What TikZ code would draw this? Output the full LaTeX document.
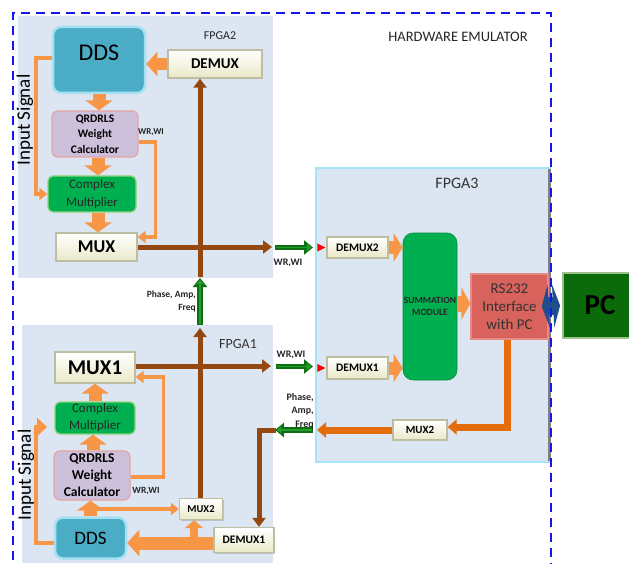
\documentclass[tikz,border=0pt]{standalone}
\usepackage{fontspec}
\setmainfont{Carlito}
\usetikzlibrary{arrows.meta,shadows}
\definecolor{panelblue}{HTML}{DCE6F2}
\definecolor{lorange}{HTML}{F79646}
\definecolor{dorange}{HTML}{E46C0A}
\definecolor{brownc}{HTML}{94470F}
\definecolor{ddsblue}{HTML}{4BACC6}
\definecolor{ddsglow}{HTML}{A5E1F2}
\definecolor{qrfill}{HTML}{CCC0DA}
\definecolor{qrdraw}{HTML}{E6A4A4}
\definecolor{cmgreen}{HTML}{00B050}
\definecolor{cmdraw}{HTML}{8FD47A}
\definecolor{cream}{HTML}{E9E9C8}
\definecolor{creamdraw}{HTML}{BDBDA2}
\definecolor{garrow}{HTML}{0E6E12}
\definecolor{lgreen}{HTML}{229E2E}
\definecolor{rsred}{HTML}{D8625C}
\definecolor{rsdraw}{HTML}{E58A86}
\definecolor{pcgreen}{HTML}{0B6B0B}
\definecolor{pcdraw}{HTML}{9DBF8A}
\definecolor{blueA}{HTML}{1F4E8C}
\definecolor{emulblue}{HTML}{1515EE}
\definecolor{fpga3line}{HTML}{A6E4F6}
\newcommand{\fs}[1]{\fontsize{#1}{#1}\selectfont}
\newcommand{\fsl}[2]{\fontsize{#1}{#2}\selectfont}
\begin{document}
\begin{tikzpicture}[x=1pt,y=-1pt,
  panel/.style={rectangle, fill=panelblue, draw=none, inner sep=0pt},
  panelthree/.style={rectangle, fill=panelblue, draw=fpga3line, line width=1.8pt, inner sep=0pt},
  creambox/.style={rectangle, draw=creamdraw, line width=1.3pt, top color=white, bottom color=cream, inner sep=0pt, text=black,
    drop shadow={shadow xshift=1pt, shadow yshift=-1pt, opacity=0.35}},
  ddsbox/.style={rectangle, rounded corners=8pt, fill=ddsblue, draw=ddsglow, line width=2.5pt, inner sep=0pt},
  qrbox/.style={rectangle, rounded corners=6pt, fill=qrfill, draw=qrdraw, line width=1.3pt, inner sep=0pt, align=center, font=\bfseries},
  cmbox/.style={rectangle, rounded corners=5pt, fill=cmgreen, draw=cmdraw, line width=1.3pt, inner sep=0pt, align=center, text=black!85},
  lbl/.style={font=\bfseries\fs{9.5}, inner sep=0pt, text=black!85},
  fat/.style={draw=lorange, line width=13pt, -{Triangle[width=27pt,length=10pt]}},
  fatsmall/.style={draw=lorange, line width=8pt, -{Triangle[width=18pt,length=8pt]}},
  thinor/.style={draw=lorange, line width=3.5pt, -{Triangle[width=12pt,length=8pt]}},
  darkor/.style={draw=dorange, line width=7pt, -{Triangle[width=15pt,length=9pt]}},
  brownarr/.style={draw=brownc, line width=5pt, -{Triangle[width=13pt,length=9pt]}},
  greenarr/.style={draw=lgreen, line width=1.8pt, shorten >=1.8pt, shorten <=1.2pt, -{Triangle[width=7pt,length=4.5pt]},
    preaction={draw=garrow, line width=5.5pt, shorten >=0pt, shorten <=0pt, -{Triangle[width=14pt,length=9pt]}}},
  emul/.style={draw=emulblue, line width=2.2pt, dash pattern=on 9pt off 6pt}
]
\useasboundingbox (0,0) rectangle (629,564);

% ---------- panels ----------
\node[panel, minimum width=255pt, minimum height=262pt] (fpga2) at (145.5,147) {};
\node[panel, minimum width=251pt, minimum height=238pt] (fpga1) at (147.5,444) {};
\node[panelthree, minimum width=234pt, minimum height=294pt] (fpga3) at (433,315) {};
\draw[black!50, line width=2.5pt] ([xshift=-1.5pt,yshift=-2pt]fpga3.north east) -- ([xshift=-1.5pt,yshift=2pt]fpga3.south east);

% ---------- labels ----------
\node[font=\fs{12}, text=black!85] (lf2) at (220,36) {FPGA2};
\node[font=\fs{14.5}, text=black!85] (lhw) at (458,37) {HARDWARE EMULATOR};
\node[font=\fs{14}, text=black!80] (lf1) at (238,344) {FPGA1};
\node[font=\fs{16}, text=black!80] (lf3) at (457,183) {FPGA3};
\node[rotate=90, font=\fs{19}, inner sep=0pt] (in2) at (25,120) {Input Signal};
\node[rotate=90, font=\fs{19}, inner sep=0pt] (in1) at (26,475) {Input Signal};

% ---------- FPGA2 blocks ----------
\node[ddsbox, minimum width=92pt, minimum height=66pt, font=\fs{24}] (ddsT) at (99,60) {\raisebox{14pt}{DDS}};
\node[creambox, minimum width=94pt, minimum height=28pt, font=\bfseries\fs{15}] (demuxT) at (215,64) {DEMUX};
\node[qrbox, minimum width=86pt, minimum height=46pt, font=\bfseries\fsl{11.5}{15.5}] (qrT) at (95,134) {QRDRLS\\Weight\\Calculator};
\node[cmbox, minimum width=88pt, minimum height=36pt, font=\fsl{13}{17.5}] (cmT) at (92,194) {Complex\\Multiplier};
\node[creambox, minimum width=81pt, minimum height=28pt, font=\bfseries\fs{18}] (muxT) at (96.5,247) {MUX};

% ---------- FPGA1 blocks ----------
\node[creambox, minimum width=80pt, minimum height=31pt, font=\bfseries\fs{21}] (mux1) at (95,367.5) {MUX1};
\node[cmbox, minimum width=80pt, minimum height=32pt, font=\fsl{13}{17}] (cm1) at (95,418) {Complex\\Multiplier};
\node[qrbox, minimum width=76pt, minimum height=49pt, font=\bfseries\fsl{13.5}{17}] (qr1) at (92,475.5) {QRDRLS\\Weight\\Calculator};
\node[ddsbox, minimum width=71pt, minimum height=41pt, font=\fs{19}] (dds1) at (90.5,538) {DDS};
\node[creambox, minimum width=43pt, minimum height=21pt, font=\bfseries\fs{10.5}] (mux2a) at (201,509) {MUX2};
\node[creambox, minimum width=60pt, minimum height=25pt, font=\bfseries\fs{11.5}] (demux1a) at (244,540) {DEMUX1};

% ---------- FPGA3 blocks ----------
\node[creambox, minimum width=61pt, minimum height=21pt, font=\bfseries\fs{11.5}] (demux2b) at (357.5,247.5) {DEMUX2};
\node[creambox, minimum width=61pt, minimum height=22pt, font=\bfseries\fs{11.5}] (demux1b) at (357.5,368) {DEMUX1};
\node[rectangle, rounded corners=10pt, fill=cmgreen, draw=cmgreen!80!black, line width=0.6pt, minimum width=54pt, minimum height=147pt, inner sep=0pt, align=center, font=\bfseries\fsl{9.5}{12.5}, text=black!85] (sum) at (430,306.5) {SUMMATION\\MODULE};
\node[rectangle, fill=rsred, draw=rsdraw, line width=1.5pt, minimum width=77pt, minimum height=65pt, inner sep=0pt, align=center, font=\fsl{15}{18}, text=black!80] (rs) at (509.5,306.5) {RS232\\Interface\\with PC};
\node[rectangle, fill=pcgreen, draw=pcdraw, line width=1.8pt, minimum width=74pt, minimum height=65pt, inner sep=0pt, font=\bfseries\fs{29}, text=black] (pc) at (600,305.5) {PC};
\node[creambox, minimum width=54pt, minimum height=20pt, font=\bfseries\fs{11}] (mux2b) at (420,430) {MUX2};

% ---------- free end points ----------
\coordinate (b2e) at (272,247);
\coordinate (g2s) at (275,247.5);
\coordinate (g2e) at (313,247.5);
\coordinate (b2bot) at (200,277);
\coordinate (gmb) at (200,325);
\coordinate (gmt) at (200,278);
\coordinate (b1top) at (200,328);
\coordinate (b1e) at (271,366);
\coordinate (g1s) at (276,366.5);
\coordinate (g1e) at (313,366.5);
\coordinate (in1tip) at (47,427);
\coordinate (gbs) at (313,430);
\coordinate (gbe) at (275,430);
\coordinate (m3e) at (317,430);

% ---------- FPGA2 connectors ----------
\draw[fat, line width=12pt, -{Triangle[width=24pt,length=11pt]}] (demuxT.west) -- (ddsT.east |- demuxT.west);
\draw[fat] (ddsT.south) -- (ddsT.south |- qrT.north);
\draw[fat] ([xshift=3pt]qrT.south) -- ([xshift=3pt]qrT.south |- cmT.north);
\draw[fat] ([xshift=6pt]cmT.south) -- ([xshift=6pt]cmT.south |- muxT.north);
\draw[thinor] ([yshift=2pt]ddsT.west) -- ++(-16,0) |- (cmT.west);
\draw[thinor] ([yshift=-8pt]qrT.east) -- ++(17,0) |- ([yshift=10pt]muxT.east);
\node[lbl, font=\bfseries\fs{9}] (wrT) at (151,132) {WR,WI};
\draw[brownarr] (muxT.east) -- (b2e);
\draw[brownarr] (b2bot) -- (b2bot |- demuxT.south);
\draw[greenarr] (g2s) -- (g2e);
\node[lbl, font=\bfseries\fs{10}] (wr2) at (288,263) {WR,WI};

% ---------- between ----------
\draw[greenarr] (gmb) -- (gmt);
\node[lbl, anchor=east, align=right, font=\bfseries\fsl{9.5}{13}] (pafT) at (196,301) {Phase, Amp,\\Freq};

% ---------- FPGA1 connectors ----------
\draw[brownarr] (mux2a.north -| b1top) -- (b1top);
\draw[brownarr] (mux1.east |- b1e) -- (b1e);
\draw[greenarr] (g1s) -- (g1e);
\node[lbl, font=\bfseries\fs{10}] (wr1) at (291,355) {WR,WI};
\draw[thinor] ([yshift=-1.5pt]qr1.east) -- ++(33,0) |- ([yshift=-9.5pt]mux1.east);
\node[lbl, font=\bfseries\fs{9.5}] (wrB) at (146,491) {WR,WI};
\draw[fat] (dds1.north) -- (dds1.north |- qr1.south);
\draw[fat] ([xshift=1pt]qr1.north) -- ([xshift=1pt]qr1.north |- cm1.south);
\draw[fat] (cm1.north) -- (cm1.north |- mux1.south);
\draw[thinor] ([xshift=6pt]dds1.north |- mux2a.west) -- (mux2a.west);
\draw[thinor, -{Triangle[width=18pt,length=10pt]}] ([yshift=-5pt]dds1.west) -- ++(-18,0) |- (in1tip);
\draw[fat, line width=13pt, -{Triangle[width=26pt,length=12pt]}] ([yshift=-3pt]demux1a.west) -- ([yshift=-3pt]dds1.east |- demux1a.west);
\draw[fatsmall] ([xshift=-7pt]mux2a.south |- demux1a.west) -- ([xshift=-7pt]mux2a.south);
\draw[greenarr] (gbs) -- (gbe);
\draw[brownarr] ([xshift=0.5pt]gbe) -| ([xshift=15pt]demux1a.north);
\node[lbl, anchor=east, align=right, font=\bfseries\fsl{10}{13.5}] (pafB) at (314,411) {Phase,\\Amp,\\Freq};

% ---------- FPGA3 connectors ----------
\fill[red] ([xshift=-1pt]demux2b.west) -- ++(-8,-4) -- ++(0,8) -- cycle;
\fill[red] ([xshift=-1pt]demux1b.west) -- ++(-8,-4) -- ++(0,8) -- cycle;
\draw[fat, line width=13pt, -{Triangle[width=28pt,length=9pt]}] (demux2b.east) -- (sum.west |- demux2b.east);
\draw[fat, line width=13pt, -{Triangle[width=28pt,length=9pt]}] (demux1b.east) -- (sum.west |- demux1b.east);
\draw[fat, line width=16pt, -{Triangle[width=33pt,length=9pt]}] ([yshift=3pt]sum.east) -- ([yshift=3pt]rs.west);
\draw[darkor] ([xshift=-2.5pt]rs.south) |- ([yshift=3pt]mux2b.east);
\draw[darkor] (mux2b.west) -- (m3e);
\draw[draw=blueA, line width=18pt, {Triangle[width=43pt,length=7pt]}-{Triangle[width=43pt,length=7pt]}] ([xshift=-7pt]rs.east) -- ([xshift=-2pt]pc.west);

% ---------- emulator frame (on top) ----------
\draw[emul] (13,575) -- (13,13) -- (551,13) -- (551,575);
\end{tikzpicture}
\end{document}
